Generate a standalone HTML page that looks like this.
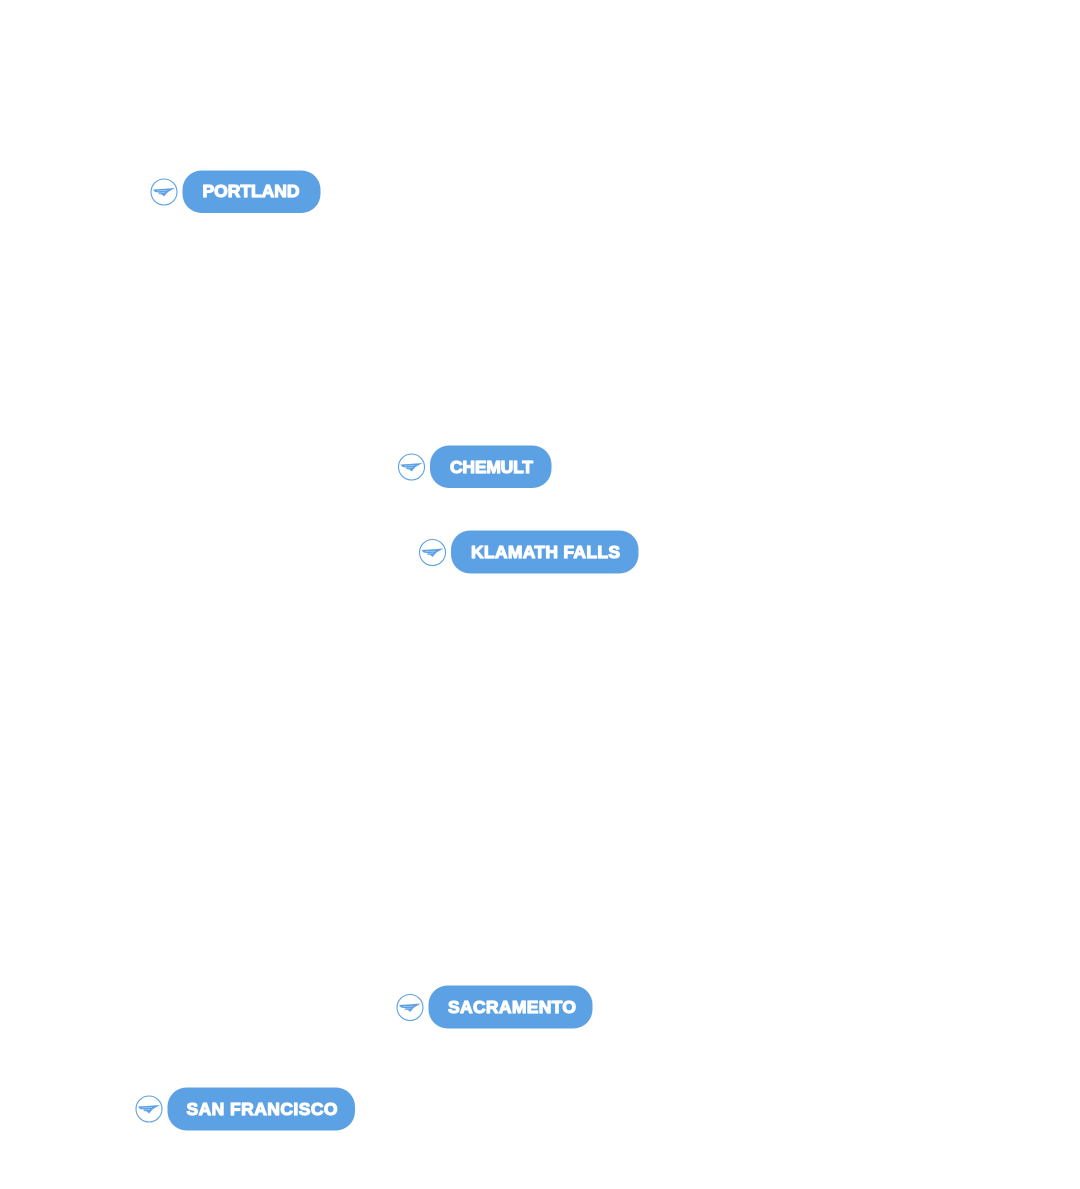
<!DOCTYPE html>
<html><head><meta charset="utf-8"><style>
html,body{margin:0;padding:0;background:#fff}
body{width:1080px;height:1189px;position:relative;overflow:hidden}
svg{position:absolute;left:0;top:0}
text{font-family:"Liberation Sans",sans-serif;font-weight:700;font-size:17.500px;fill:#fff;stroke:#fff;stroke-width:1.200px;stroke-linejoin:round;text-anchor:middle}
</style></head><body>
<svg width="1080" height="1189" viewBox="0 0 1080 1189">
<defs>
<g id="ic">
<circle cx="0" cy="0" r="13" fill="#fff" stroke="#5ca1e3" stroke-width="1.100"/>
<path d="M-11,-2.500 L-3,-3 L11,-4 L4,0 L0,4.500 L-2,2.500 L-6,2 L-4,0.800 L-9,0 Z" fill="#5ca1e3"/>
<path d="M-7,-1 L3,-1.500 M-4,1 L1,0.500" stroke="#cfe3f7" stroke-width=".5" fill="none"/>
</g>
</defs>
<use href="#ic" x="164" y="192"/>
<rect x="182.500" y="170.500" width="138" height="42.500" rx="19" fill="#5ca1e3"/>
<text x="251" y="197" textLength="97" lengthAdjust="spacing">PORTLAND</text>
<use href="#ic" x="411.500" y="467"/>
<rect x="430" y="445.500" width="121.500" height="42.500" rx="19" fill="#5ca1e3"/>
<text x="491.500" y="473" textLength="83" lengthAdjust="spacing">CHEMULT</text>
<use href="#ic" x="432.500" y="552.500"/>
<rect x="451" y="530.500" width="187.500" height="43" rx="19" fill="#5ca1e3"/>
<text x="545.500" y="558" textLength="149" lengthAdjust="spacing">KLAMATH FALLS</text>
<use href="#ic" x="410" y="1007.500"/>
<rect x="428.500" y="985.500" width="164" height="43" rx="19" fill="#5ca1e3"/>
<text x="512" y="1013" textLength="128" lengthAdjust="spacing">SACRAMENTO</text>
<use href="#ic" x="149" y="1109"/>
<rect x="167.500" y="1087.500" width="187.500" height="43" rx="19" fill="#5ca1e3"/>
<text x="262" y="1115" textLength="151" lengthAdjust="spacing">SAN FRANCISCO</text>
</svg>
</body></html>
